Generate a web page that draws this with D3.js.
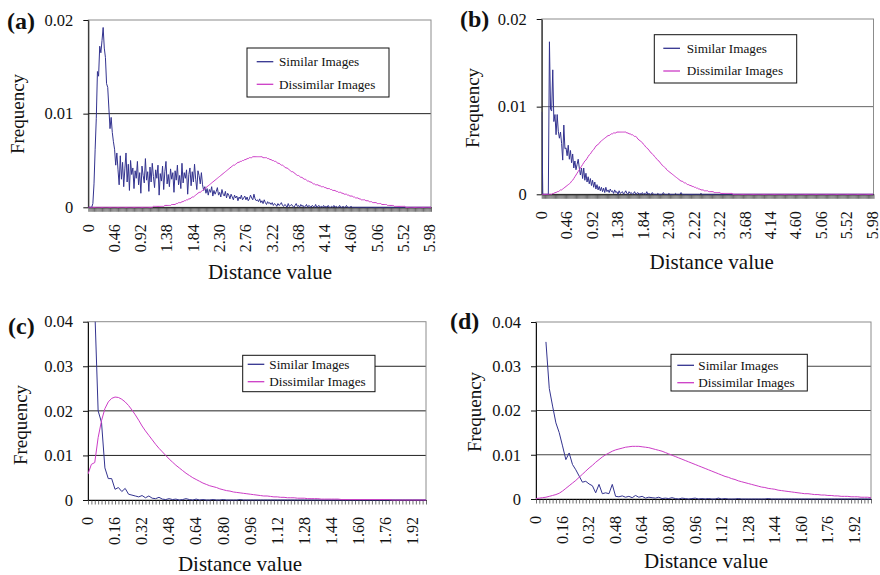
<!DOCTYPE html>
<html>
<head>
<meta charset="utf-8">
<script src="https://cdnjs.cloudflare.com/ajax/libs/d3/7.8.5/d3.min.js"></script>
<style>
  body { margin: 0; background: #fff; }
  svg text { font-family: "Liberation Serif", "Times New Roman", serif; fill: #111; }
</style>
</head>
<body>
<svg id="fig" width="880" height="575"></svg>
<script>
// frequencies below are written in units of 0.0001, one value per distance bin
const UNIT = 1e-4;

// (a) / (b): bins of 0.02 from 0 to 6.00
const simA = [
  0,0,0,0,4,25,62,95,145,140,
  172,165,178,192,170,160,132,128,106,84,
  96,80,70,62,45,58,40,24,
  55,30,48,22,41,58,27,46,18,50,35,42,
  20,39,31,49,24,37,15,44,34,26,52,29,
  38,17,43,27,47,33,21,40,31,45,13,36,
  28,44,19,38,49,25,35,22,41,30,37,16,
  39,29,45,24,34,20,47,26,37,31,40,14,
  35,42,23,38,27,46,30,19,39,34,25,37,
  24,18,22,15,20,13,19,16,22,12,18,14,
  17,21,13,16,11,19,14,12,17,10,15,13,
  9,14,11,8,13,10,12,7,11,9,13,8,
  10,12,8,11,7,9,13,10,8,14,9,7,
  8,6,9,5,7,4,8,5,3,6,4,5,
  3,5,2,4,3,1,4,2,3,5,2,1,
  3,2,0,4,1,2,3,1,0,2,4,1,
  2,0,3,1,2,0,1,3,0,2,1,0,
  2,1,0,3,0,1,2,0,1,0,2,0,
  1,0,2,0,0,1,0,2,0,1,0,0,
  2,0,0,1,0,0,2,0,0,0,1,0,
  0,0,0,0,0,0,0,0,0,0,
  0,0,0,0,0,0,0,0,0,0,
  0,0,0,0,0,0,0,0,0,0,
  0,0,0,0,0,0,0,0,0,0,
  0,0,0,0,0,0,0,0,0,0,
  0,0,0,0,0,0,0,0,0,0,
  0,0,0,0,0,0,0,0,0
];
const disA = [
  0,0,0,0,0,0,0,0,0,0,
  0,0,0,0,0,0,0,0,0,0,
  0,0,0,0,0,0,0,0,0,0,
  0,0,0,0,0,0,0,0,0,0,
  0,0,0,0,0,0,0,0,0,0,
  0,0,0,0,0,
  0,0,1,1,1, 1,1,1,1,1, 1,1,2,2,2, 2,2,2,3,3,
  3,3,4,4,5, 5,5,6,6,7, 7,8,8,9,9, 10,11,11,12,13,
  14,15,16,16,17, 18,19,20,21,22, 23,24,25,26,27, 28,29,30,31,32,
  33,34,35,36,37, 38,39,40,41,42, 43,44,45,45,46, 47,48,48,49,49,
  50,50,51,51,52, 52,53,53,53,54, 54,54,54,54,54, 54,54,54,53,53,
  53,53,52,52,51, 51,50,50,49,49, 48,47,47,46,45, 45,44,43,42,42,
  41,40,39,38,38, 37,36,35,34,34, 33,32,32,31,30, 30,29,28,28,27,
  27,26,25,25,24, 24,24,23,23,22, 22,22,21,21,20, 20,20,19,19,18,
  18,18,17,17,16, 16,16,15,15,14, 14,14,13,13,12, 12,12,11,11,10,
  10,10,9,9,8, 8,8,8,7,7, 7,6,6,6,5, 5,5,5,4,4,
  4,4,3,3,3, 3,3,2,2,2, 2,2,2,1,1, 1,1,1,1,1,
  1,1,1,0,0,
  0,0,0,0,0,0,0,0,0,0,
  0,0,0,0,0,0,0,0,0,0,0
];
const simB = [
  94,0,0,0,0,0,0,174,97,95,
  142,83,91,68,91,72,64,71,58,39,
  79,52,53,44,56,40,50,36,46,30,
  38,28,34,40,30,22,30,18,30,16,
  24,14,20,12,18,10,16,8,14,6,
  11,5,9,4,8,3,7,2,8,3,
  5,2,6,3,4,1,5,2,3,0,
  4,1,2,3,0,2,4,1,0,3,
  1,2,0,1,3,0,1,2,0,1,
  0,2,0,1,0,3,0,1,0,0,
  2,0,0,0,0,1,0,0,0,0,
  2,0,0,0,0,1,0,0,0,0,
  0,1,0,0,0,0,2,0,0,0,
  0,0,0,0,0,0,0,0,0,0,
  0,0,0,0,1,0,0,0,0,0,
  0,0,0,0,0,0,0,0,0,0,
  0,0,0,0,0,0,0,0,0,0,
  0,0,0,0,0,0,0,0,0,0,
  0,0,0,0,0,0,0,0,0,0,
  0,0,0,0,0,0,0,0,0,0,
  0,0,0,0,0,0,0,0,0,0,
  0,0,0,0,0,0,0,0,0,0,
  0,0,0,0,0,0,0,0,0,0,
  0,0,0,0,0,0,0,0,0,0,
  0,0,0,0,0,0,0,0,0,0,
  0,0,0,0,0,0,0,0,0,0,
  0,0,0,0,0,0,0,0,0,0,
  0,0,0,0,0,0,0,0,0,0,
  0,0,0,0,0,0,0,0,0,0,
  0,0,0,0,0,0,0,0,0,0,
  0
];
const disB = [
  0,0,0,0,0,0,0,0,0,0,
  1,1,2,2,3, 3,4,5,5,6, 7,8,9,10,11, 12,13,15,16,18,
  20,22,24,26,28, 30,32,34,36,38, 39,41,43,45,46, 48,50,51,53,55,
  56,57,58,60,61, 62,63,64,65,66, 67,67,68,69,69, 70,70,70,71,71,
  71,71,71,71,71, 71,71,70,70,69, 69,68,68,67,66, 66,65,63,62,61,
  60,59,57,56,54, 53,52,50,49,47, 46,45,43,42,40, 39,38,36,35,33,
  32,31,30,28,27, 26,25,24,23,22, 21,20,19,18,17, 16,15,15,14,13,
  13,12,11,11,10, 10,9,9,8,8, 7,7,6,6,5, 5,5,4,4,4,
  4,3,3,3,3, 3,2,2,2,2, 2,2,1,1,1, 1,1,1,1,1,
  1,1,1,0,0,
  0,0,0,0,0,0,0,0,0,0,
  0,0,0,0,0,0,0,0,0,0,
  0,0,0,0,0,0,0,0,0,0,
  0,0,0,0,0,0,0,0,0,0,
  0,0,0,0,0,0,0,0,0,0,
  0,0,0,0,0,0,0,0,0,0,
  0,0,0,0,0,0,0,0,0,0,
  0,0,0,0,0,0,0,0,0,0,
  0,0,0,0,0,0,0,0,0,0,
  0,0,0,0,0,0,0,0,0,0,
  0,0,0,0,0,0,0,0,0,0,
  0,0,0,0,0,0,0,0,0,0,
  0,0,0,0,0,0
];

// (c) / (d): bins of 0.02 from 0 to 2.00 (c) and 2.02 (d); null = empty bin
const simC = [
  null,null,430,200,174,72,48,48,24,28,
  19,26,13,11,9,7,10,5,9,4,
  3,6,2,1,3,1,2,0,1,3,
  1,0,2,0,1,0,0,1,0,0,
  1,0,0,0,0,1,0,0,0,0,
  0,0,0,0,0,0,0,0,0,0,
  0,0,0,0,0,0,0,0,0,0,
  0,0,0,0,0,0,0,0,0,0,
  0,0,0,0,0,0,0,0,0,0,
  0,0,0,0,0,0,0,0,0,0,
  0
];
const disC = [
  58,80,84,140,178,205,220,228,231,230,
  226,220,212,202,191,179,166,155,145,135,
  125,116,108,100,92,85,78,72,66,60,
  55,50,46,42,38,35,32,30,28,25,
  23,21,20,18,17,16,15,14,13,12,
  11,10,9,9,8,7,7,6,6,5,
  5,5,4,4,4,3,3,3,3,2,
  2,2,2,2,2,1,1,1,1,1,
  1,1,1,1,1,1,1,1,1,1,
  0,0,0,0,0,0,0,0,0,0,
  0
];
const simD = [
  null,null,null,355,250,210,172,150,120,89,
  104,78,66,52,38,40,34,30,14,33,
  12,14,12,33,6,5,7,4,6,3,
  8,4,6,2,4,3,2,4,1,2,
  1,3,1,0,2,1,0,1,2,0,
  1,0,1,0,0,2,0,1,0,0,
  0,1,0,0,0,0,0,0,0,0,
  1,0,0,0,0,0,0,0,0,0,
  0,0,0,0,0,0,0,0,0,0,
  0,0,0,0,0,0,0,0,0,0,
  0,0
];
const disD = [
  1,2,3,4,6,8,10,13,18,24,
  30,36,42,49,56,63,70,76,83,89,
  95,100,104,108,111,113,115,117,118,119,
  119,119,118,117,116,114,112,110,108,105,
  102,99,96,93,90,87,84,81,78,75,
  72,69,66,63,60,57,54,51,49,46,
  44,41,39,37,35,33,31,29,27,26,
  24,23,22,20,19,18,17,16,15,14,
  13,12,12,11,10,10,9,9,8,8,
  7,7,6,6,6,5,5,5,4,4,
  4,3
];

// category labels, one every 23 bins (a, b) or 8 bins (c, d)
const ticksA = ["0","0.46","0.92","1.38","1.84","2.30","2.76","3.22","3.68","4.14","4.60","5.06","5.52","5.98"];
const ticksB = ["0","0.46","0.92","1.38","1.84","2.30","2.22","3.22","3.68","4.14","4.60","5.06","5.52","5.98"];
const ticksCD = ["0","0.16","0.32","0.48","0.64","0.80","0.96","1.12","1.28","1.44","1.60","1.76","1.92"];
const yTicksAB = [0, 0.01, 0.02];
const yTicksCD = [0, 0.01, 0.02, 0.03, 0.04];
const seriesNames = ["Similar Images", "Dissimilar Images"];
const seriesColors = ["#33338f", "#cc3cc6"];

const panels = [
  { tag: "(a)", sim: simA, dis: disA, labels: ticksA, every: 23, yTicks: yTicksAB,
    x0: 88.3, x1: 431, y0: 207.3, y1: 20, grid: "#222",
    tagAt: [7, 28.5], yTitleAt: [24, 114], xTitleAt: [270, 279],
    legend: { x: 247, y: 48, w: 142, h: 49, rows: [13.7, 36.3], line: [9.7, 26.3], text: 32 } },
  { tag: "(b)", sim: simB, dis: disB, labels: ticksB, every: 23, yTicks: yTicksAB,
    x0: 541.7, x1: 873.5, y0: 194.3, y1: 19, grid: "#666",
    tagAt: [460, 26.5], yTitleAt: [479, 108], xTitleAt: [711.7, 268.5],
    legend: { x: 654.3, y: 34.7, w: 142.4, h: 48.3, rows: [13.6, 36.3], line: [9, 25.7], text: 32.4 } },
  { tag: "(c)", sim: simC, dis: disC, labels: ticksCD, every: 8, yTicks: yTicksCD,
    x0: 88, x1: 426, y0: 500, y1: 321.7, grid: "#222",
    tagAt: [8, 333.5], yTitleAt: [27, 425], xTitleAt: [240, 570.5],
    legend: { x: 242.7, y: 355.3, w: 132.3, h: 36.4, rows: [9, 26.4], line: [5, 21.6], text: 26.6 } },
  { tag: "(d)", sim: simD, dis: disD, labels: ticksCD, every: 8, yTicks: yTicksCD,
    x0: 536, x1: 871, y0: 499, y1: 322, grid: "#444",
    tagAt: [450, 328.5], yTitleAt: [481, 412], xTitleAt: [706, 568],
    legend: { x: 671, y: 354.3, w: 136.3, h: 36.7, rows: [11, 28.4], line: [6.3, 23], text: 27.3 } }
];

const svg = d3.select("#fig");
svg.append("rect").attr("width", 880).attr("height", 575).attr("fill", "#fff");

panels.forEach((p, k) => {
  const g = svg.append("g");
  const n = p.sim.length;
  const x = d3.scaleLinear().domain([0, n - 1]).range([p.x0, p.x1]);
  const y = d3.scaleLinear().domain([0, d3.max(p.yTicks)]).range([p.y0, p.y1]);

  // inner gridlines
  g.selectAll(null)
    .data(p.yTicks.filter(v => v > 0 && v < d3.max(p.yTicks)))
    .join("line")
    .attr("x1", p.x0).attr("x2", p.x1)
    .attr("y1", d => y(d)).attr("y2", d => y(d))
    .attr("stroke", p.grid).attr("stroke-width", 1);

  g.append("rect")
    .attr("x", p.x0).attr("y", p.y1)
    .attr("width", p.x1 - p.x0).attr("height", p.y0 - p.y1)
    .attr("fill", "none").attr("stroke", "#8c8c8c");

  // y axis
  const ya = g.append("g")
    .attr("transform", `translate(${p.x0},0)`)
    .call(d3.axisLeft(y).tickValues(p.yTicks).tickSize(5).tickSizeOuter(0).tickPadding(10)
      .tickFormat(v => v === 0 ? "0" : v.toFixed(2)));
  ya.attr("font-family", null).attr("font-size", 16.5);
  ya.select(".domain").attr("stroke", "#111");
  ya.selectAll(".tick line").attr("stroke", "#111");
  ya.selectAll("text").attr("fill", "#111");

  // x axis: one tick per bin
  const xa = g.append("g")
    .attr("transform", `translate(0,${p.y0})`)
    .call(d3.axisBottom(x).tickValues(d3.range(n)).tickSize(4.5).tickSizeOuter(0).tickFormat(""));
  xa.select(".domain").attr("stroke", "#000");
  xa.selectAll(".tick line").attr("stroke", "#333").attr("stroke-width", 0.7);

  // rotated category labels
  const la = g.append("g")
    .attr("transform", `translate(0,${p.y0})`)
    .call(d3.axisBottom(x).tickValues(p.labels.map((_, i) => i * p.every))
      .tickSize(0).tickFormat((d, i) => p.labels[i]));
  la.select(".domain").remove();
  la.attr("font-family", null).attr("font-size", 16);
  la.selectAll("text")
    .attr("fill", "#111")
    .attr("transform", "rotate(-90)")
    .attr("x", -17).attr("y", 0).attr("dy", "0.3em")
    .style("text-anchor", "end");

  // series lines, clipped to the plot area
  const clipId = "clip" + k;
  g.append("clipPath").attr("id", clipId)
    .append("rect")
    .attr("x", p.x0).attr("y", p.y1)
    .attr("width", p.x1 - p.x0).attr("height", p.y0 - p.y1 + 1);
  const line = d3.line()
    .defined(v => v != null)
    .x((v, i) => x(i))
    .y(v => y(v * UNIT));
  g.append("g").attr("clip-path", `url(#${clipId})`)
    .selectAll("path")
    .data([p.sim, p.dis])
    .join("path")
    .attr("d", line)
    .attr("fill", "none")
    .attr("stroke", (d, i) => seriesColors[i])
    .attr("stroke-width", 1)
    .attr("stroke-linejoin", "round");

  // legend
  const L = p.legend;
  const lg = g.append("g").attr("transform", `translate(${L.x},${L.y})`);
  lg.append("rect").attr("width", L.w).attr("height", L.h)
    .attr("fill", "#fff").attr("stroke", "#111");
  seriesNames.forEach((name, i) => {
    lg.append("line")
      .attr("x1", L.line[0]).attr("x2", L.line[1])
      .attr("y1", L.rows[i]).attr("y2", L.rows[i])
      .attr("stroke", seriesColors[i]).attr("stroke-width", 1.3);
    lg.append("text")
      .attr("x", L.text).attr("y", L.rows[i]).attr("dy", "0.34em")
      .attr("font-size", 13.2)
      .text(name);
  });

  // titles
  g.append("text")
    .attr("x", p.tagAt[0]).attr("y", p.tagAt[1])
    .attr("font-size", 24).attr("font-weight", "bold")
    .text(p.tag);
  g.append("text")
    .attr("transform", `translate(${p.yTitleAt[0]},${p.yTitleAt[1]}) rotate(-90)`)
    .attr("text-anchor", "middle").attr("font-size", 19)
    .text("Frequency");
  g.append("text")
    .attr("x", p.xTitleAt[0]).attr("y", p.xTitleAt[1])
    .attr("text-anchor", "middle").attr("font-size", 21)
    .text("Distance value");
});
</script>
</body>
</html>
